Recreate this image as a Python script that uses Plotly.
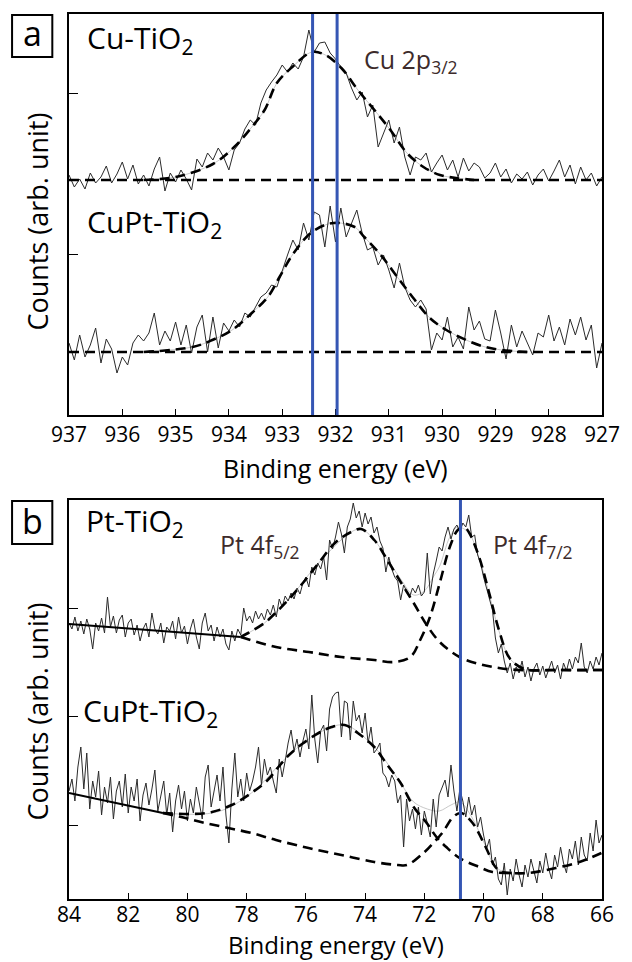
import numpy as np
import plotly.graph_objects as go

# ---------------- Panel a : Cu 2p3/2 (binding energy 937.0 -> 927.0 eV, 0.1 eV step) -------------
a_start, a_step = 937.0, 0.1
cu_tio2_a = [
    240, 228, 236, 226, 242, 232, 238, 249, 232, 241,
    253, 236, 250, 231, 240, 229, 246, 258, 224, 242,
    233, 245, 236, 225, 256, 248, 262, 255, 267, 258,
    245, 265, 272, 286, 295, 290, 312, 325, 333, 340,
    350, 343, 352, 346, 358, 385, 363, 372, 373, 362,
    356, 348, 342, 327, 315, 323, 298, 310, 268, 282,
    295, 272, 288, 258, 240, 258, 255, 262, 243, 252,
    260, 245, 255, 238, 257, 244, 252, 248, 237, 242,
    252, 238, 246, 232, 241, 236, 243, 230, 240, 246,
    234, 244, 255, 238, 250, 231, 248, 235, 242, 229,
    238,
]
cupt_tio2_a = [
    72, 55, 80, 58, 70, 87, 52, 76, 66, 42,
    58, 50, 72, 80, 74, 82, 102, 70, 84, 74,
    93, 70, 90, 62, 88, 100, 63, 98, 67, 92,
    84, 95, 88, 102, 98, 108, 118, 122, 130, 128,
    145, 160, 175, 165, 192, 175, 203, 200, 168, 209,
    173, 207, 178, 192, 205, 182, 165, 168, 150, 160,
    145, 127, 152, 128, 115, 108, 115, 106, 65, 82,
    75, 98, 68, 78, 66, 108, 85, 94, 76, 74,
    105, 82, 56, 90, 68, 84, 72, 60, 82, 78,
    100, 74, 88, 70, 96, 80, 98, 75, 90, 47,
    72,
]
cu_base_a = 235
cupt_base_a = 63
cu_fit_e = [935.6, 935.0, 934.3, 933.9, 933.57, 933.33, 933.1, 932.81, 932.44, 932.19,
            931.89, 931.58, 931.27, 930.97, 930.66, 930.35, 930.04, 929.74, 929.4]
cu_fit_y = [235, 238, 251, 268, 288, 305, 332, 348, 363, 360,
            347, 325, 305, 285, 262, 248, 240, 237, 235]
cupt_fit_e = [935.6, 934.68, 934.31, 933.94, 933.57, 933.27, 933.05, 932.81, 932.44, 932.04,
              931.64, 931.46, 931.15, 930.84, 930.54, 930.23, 929.92, 929.55, 929.19, 928.88, 928.4]
cupt_fit_y = [63, 68, 75, 85, 102, 118, 138, 160, 183, 192,
              188, 178, 160, 138, 117, 97, 85, 75, 68, 65, 63]
cu_marks = [932.43, 931.97]
a_ticks = [937, 936, 935, 934, 933, 932, 931, 930, 929, 928, 927]
a_yticks = [161, 322]

# ---------------- Panel b : Pt 4f (binding energy 84.0 -> 66.0 eV, 0.1 eV step) -----------------
b_start, b_step = 84.0, 0.1
pt_tio2_b = [
    276, 270, 282, 268, 278, 265, 280, 270, 250, 276,
    268, 281, 266, 302, 272, 283, 266, 279, 284, 262,
    276, 280, 264, 274, 258, 270, 276, 262, 286, 270,
    265, 276, 256, 272, 268, 278, 260, 282, 266, 273,
    255, 270, 280, 262, 250, 276, 286, 268, 274, 258,
    272, 262, 270, 255, 249, 268, 258, 270, 264, 291,
    278, 283, 276, 288, 280, 286, 279, 290, 284, 294,
    282, 300, 292, 303, 298, 306, 300, 311, 305, 316,
    322, 312, 332, 324, 336, 330, 342, 319, 359, 350,
    362, 377, 365, 346, 372, 380, 396, 381, 388, 372,
    386, 375, 382, 366, 372, 358, 351, 327, 342, 330,
    322, 318, 299, 314, 308, 302, 311, 306, 314, 303,
    307, 346, 305, 325, 338, 352, 348, 362, 372, 360,
    370, 374, 367, 376, 372, 384, 362, 364, 344, 336,
    322, 312, 300, 289, 261, 246, 255, 238, 226, 236,
    220, 232, 226, 238, 222, 232, 218, 230, 236, 224,
    233, 221, 230, 238, 226, 234, 220, 236, 228, 240,
    230, 242, 236, 256, 232, 226, 238, 230, 242, 234,
    246,
]
cupt_tio2_b = [
    108, 120, 98, 132, 152, 110, 146, 90, 118, 102,
    128, 84, 112, 96, 122, 80, 108, 118, 92, 125,
    86, 112, 98, 120, 78, 104, 116, 94, 110, 129,
    88, 102, 118, 84, 106, 67, 98, 114, 90, 108,
    78, 100, 86, 112, 96, 80, 122, 134, 92, 110,
    124, 98, 132, 84, 56, 110, 146, 102, 120, 98,
    126, 108, 118, 132, 152, 114, 140, 124, 132, 118,
    106, 140, 122, 138, 156, 169, 148, 160, 142, 158,
    170, 150, 204, 160, 136, 168, 174, 148, 190, 202,
    206, 207, 162, 198, 196, 159, 198, 178, 184, 166,
    186, 156, 172, 146, 150, 156, 126, 122, 112, 124,
    118, 96, 104, 52, 100, 78, 90, 70, 92, 64,
    88, 76, 62, 100, 72, 104, 112, 119, 102, 134,
    108, 88, 110, 98, 82, 102, 84, 94, 72, 82,
    64, 50, 60, 34, 42, 20, 14, 36, 4, 30,
    18, 40, 24, 12, 34, 22, 40, 28, 16, 38,
    26, 46, 30, 20, 44, 32, 52, 36, 26, 50,
    40, 58, 34, 62, 44, 38, 66, 48, 79, 56,
    64,
]
# Pt-TiO2 fit components
pt_bg_e = [84.0, 78.2]
pt_bg_y = [275, 262]
pt_f52_e = [78.2, 77.95, 77.4, 76.96, 76.57, 76.13, 75.57, 75.02, 74.47, 74.13, 73.69, 73.25,
            72.8, 72.36, 71.92, 71.48, 70.81, 70.15, 69.48, 68.8, 67.5, 66.0]
pt_f52_y = [262, 266, 276, 288, 300, 315, 336, 356, 367, 370, 359, 339,
            317, 296, 274, 257, 242, 235, 231, 229, 229, 229]
pt_f72_e = [78.2, 77.01, 75.9, 74.8, 73.69, 73.03, 72.47, 72.14, 71.81, 71.48, 71.14, 70.87,
            70.65, 70.48, 70.15, 69.81, 69.48, 69.1, 68.6, 67.5, 66.0]
pt_f72_y = [262, 252, 247, 242, 239, 237, 242, 259, 282, 316, 352, 369,
            372, 366, 342, 306, 269, 240, 230, 229, 229]
pt_env_e = [78.2, 77.4, 76.57, 75.57, 74.47, 74.13, 73.69, 73.25, 72.8, 72.36, 72.0, 71.7,
            71.48, 71.14, 70.87, 70.5, 70.15, 69.81, 69.48, 69.1, 68.6]
pt_env_y = [262, 276, 300, 336, 367, 370, 359, 340, 320, 304, 308, 322,
            333, 362, 372, 366, 341, 305, 268, 240, 229]
# CuPt-TiO2 fit components
cp_bg_e = [84.0, 80.83]
cp_bg_y = [106, 86]
cp_f52_e = [80.83, 79.83, 79.17, 78.51, 77.84, 77.29, 76.9, 76.57, 76.13, 75.57, 75.13, 74.69,
            74.25, 73.69, 73.25, 72.8, 72.36, 71.92, 71.59, 71.26, 70.81, 70.15, 69.7, 69.17,
            68.5, 67.56, 66.76, 66.02]
cp_f52_y = [86, 85, 87, 94, 106, 119, 133, 144, 155, 166, 172, 174,
            166, 152, 134, 116, 92, 76, 62, 52, 41, 32, 27, 26,
            26, 31, 37, 46]
cp_f72_e = [80.83, 80.07, 79.4, 78.62, 77.84, 77.01, 75.91, 74.8, 73.69, 72.9, 72.58, 72.03,
            71.7, 71.37, 71.03, 70.76, 70.37, 69.93, 69.6, 69.37, 69.0]
cp_f72_y = [86, 81, 76, 71, 66, 59, 51, 44, 37, 34, 34, 46,
            56, 67, 82, 86, 76, 52, 32, 27, 26]
cp_env_e = [80.83, 79.0, 77.84, 76.57, 75.57, 74.69, 73.69, 72.8, 72.36, 71.9, 71.5, 71.1,
            70.8, 70.4, 69.95, 69.6, 69.2]
cp_env_y = [86, 87, 106, 144, 166, 174, 152, 116, 97, 90, 88, 94,
            97, 82, 54, 32, 26]
pt_marks = [70.78]
b_ticks = [84, 82, 80, 78, 76, 74, 72, 70, 68, 66]
b_yticks = [74, 183, 291]

# ---------------- figure geometry (pixels) ----------------
W, H = 632, 962
L, R, T, B = 69, 612, 14, 899
A_BOT, B_TOP = 415, 500


def fx(px):
    return (px - L) / (R - L)


def fy(py):
    return (B - py) / (B - T)


FONT = "Open Sans"
NOISE = dict(color="#2b2b2b", width=1)
DASH = dict(color="black", width=2.6, dash="10px,6px")
ENV = dict(color="#c8c8c8", width=1)
BLUE = "#3556b4"

ea = np.round(a_start - a_step * np.arange(len(cu_tio2_a)), 2)
eb = np.round(b_start - b_step * np.arange(len(pt_tio2_b)), 2)

fig = go.Figure()


def add(x, y, line, ax, shape="linear"):
    fig.add_trace(go.Scatter(x=x, y=y, mode="lines", line=dict(**line, shape=shape),
                             xaxis=ax[0], yaxis=ax[1], showlegend=False, hoverinfo="skip"))


A = ("x", "y")
Bx = ("x2", "y2")
# panel a
add(cu_fit_e, cu_fit_y, ENV, A, "spline")
add(cupt_fit_e, cupt_fit_y, ENV, A, "spline")
add(ea, cu_tio2_a, NOISE, A)
add(ea, cupt_tio2_a, NOISE, A)
add([a_ticks[0], a_ticks[-1]], [cu_base_a, cu_base_a], DASH, A)
add([a_ticks[0], a_ticks[-1]], [cupt_base_a, cupt_base_a], DASH, A)
add(cu_fit_e, cu_fit_y, DASH, A, "spline")
add(cupt_fit_e, cupt_fit_y, DASH, A, "spline")
# panel b
add(pt_env_e, pt_env_y, ENV, Bx, "spline")
add(cp_env_e, cp_env_y, ENV, Bx, "spline")
add(eb, pt_tio2_b, NOISE, Bx)
add(eb, cupt_tio2_b, NOISE, Bx)
add(pt_bg_e, pt_bg_y, dict(color="black", width=2.2), Bx)
add(cp_bg_e, cp_bg_y, dict(color="black", width=2.2), Bx)
add(pt_f52_e, pt_f52_y, DASH, Bx, "spline")
add(pt_f72_e, pt_f72_y, DASH, Bx, "spline")
add(cp_f52_e, cp_f52_y, DASH, Bx, "spline")
add(cp_f72_e, cp_f72_y, DASH, Bx, "spline")

shapes = []
for e in cu_marks:
    shapes.append(dict(type="line", xref="x", yref="y domain", x0=e, x1=e, y0=0, y1=1,
                       line=dict(color=BLUE, width=3)))
for e in pt_marks:
    shapes.append(dict(type="line", xref="x2", yref="y2 domain", x0=e, x1=e, y0=0, y1=1,
                       line=dict(color=BLUE, width=3)))
# panel letter boxes
for (x0, y0, x1, y1) in [(11, 15, 52, 57), (11, 501, 52, 544)]:
    shapes.append(dict(type="rect", xref="paper", yref="paper", x0=fx(x0), x1=fx(x1),
                       y0=fy(y1), y1=fy(y0), line=dict(color="black", width=2)))

ann = []


def text(t, px, py, size, color="black", xanchor="left", yanchor="middle", angle=0):
    ann.append(dict(text=t, x=fx(px), y=fy(py), xref="paper", yref="paper", showarrow=False,
                    xanchor=xanchor, yanchor=yanchor, textangle=angle,
                    font=dict(family=FONT, size=size, color=color)))


BROWN = "#3d2b2b"
text("a", 31.5, 33, 34, xanchor="center")
text("b", 31.5, 521, 34, xanchor="center")
text("Cu-TiO<sub>2</sub>", 85, 39, 30)
text("CuPt-TiO<sub>2</sub>", 85, 223, 30)
text("Cu 2p<sub>3/2</sub>", 367, 61, 25, BROWN)
text("Pt-TiO<sub>2</sub>", 84, 522, 30)
text("Pt 4f<sub>5/2</sub>", 221, 545, 25, BROWN)
text("Pt 4f<sub>7/2</sub>", 499, 545, 25, BROWN)
text("CuPt-TiO<sub>2</sub>", 81, 712, 30)
text("Binding energy (eV)", 340.5, 468, 25, xanchor="center")
text("Binding energy (eV)", 340.5, 945, 24, xanchor="center")
text("Counts (arb. unit)", 36, 222, 27, xanchor="center", angle=-90)
text("Counts (arb. unit)", 36, 712, 27, xanchor="center", angle=-90)

common = dict(showline=True, mirror=True, linecolor="black", linewidth=1.6, showgrid=False,
              zeroline=False, ticks="inside", tickcolor="black")
fig.update_layout(
    width=W, height=H, paper_bgcolor="white", plot_bgcolor="white",
    margin=dict(l=L, r=W - R, t=T, b=H - B, pad=0),
    font=dict(family=FONT, color="black"),
    xaxis=dict(domain=[0, 1], range=[a_ticks[0], a_ticks[-1]], anchor="y", tickvals=a_ticks,
               ticklen=6, tickwidth=1.4, tickfont=dict(size=21, family=FONT), **common),
    yaxis=dict(domain=[fy(A_BOT), 1], range=[0, 401], anchor="x", tickvals=a_yticks,
               showticklabels=False, ticklen=9, tickwidth=1.4, **common),
    xaxis2=dict(domain=[0, 1], range=[b_ticks[0], b_ticks[-1]], anchor="y2", tickvals=b_ticks,
                ticklen=6, tickwidth=1.4, tickfont=dict(size=21, family=FONT),
                ticklabelstandoff=-4, **common),
    yaxis2=dict(domain=[0, fy(B_TOP)], range=[0, 399], anchor="x2", tickvals=b_yticks,
                showticklabels=False, ticklen=9, tickwidth=1.4, **common),
    shapes=shapes, annotations=ann, showlegend=False,
)
fig.write_html("out.html", config={"displayModeBar": False},
               post_script="document.body.style.margin='0px';document.body.style.padding='0px';")
